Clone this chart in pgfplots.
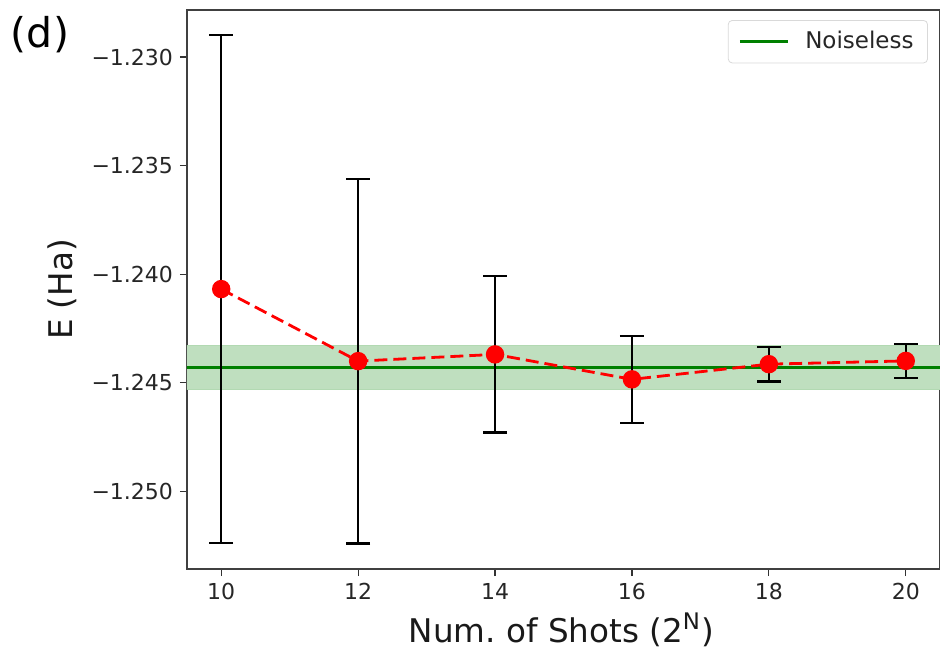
\documentclass[border=0pt]{standalone}
\usepackage{fontspec}
\setmainfont{DejaVu Sans}
\usepackage{pgfplots}
\pgfplotsset{compat=1.18}
\definecolor{mplred}{RGB}{255,0,0}
\definecolor{mplgreen}{RGB}{0,128,0}
\definecolor{bandgreen}{RGB}{191,223,191}

\begin{document}
\begin{tikzpicture}
\begin{axis}[
    scale only axis,
    width=376.5pt, height=279.5pt,
    xmin=9.5, xmax=20.5,
    ymin=-1.25359, ymax=-1.22783,
    xtick={10,12,14,16,18,20},
    xticklabels={10,12,14,16,18,20},
    ytick={-1.250,-1.245,-1.240,-1.235,-1.230},
    yticklabels={−1.250,−1.245,−1.240,−1.235,−1.230},
    xtick pos=bottom, ytick pos=left,
    tick align=outside, major tick length=3.5pt,
    tick style={black!80, line width=0.6pt},
    axis line style={black!75, line width=0.8pt},
    ticklabel style={font=\fontsize{11}{13}\selectfont, text=black!85},
    xlabel={Num.\ of Shots (2\textsuperscript{N})},
    ylabel={E (Ha)},
    label style={font=\fontsize{16.3}{19}\selectfont, text=black!90},
    xlabel style={at={(axis description cs:0.497,-0.109)}, anchor=center},
    ylabel style={at={(axis description cs:-0.166,0.5)}, anchor=center},
    legend style={at={(0.984,0.982)}, anchor=north east, draw=black!15,
        rounded corners=2pt, font=\fontsize{11.5}{13}\selectfont, text=black!85,
        inner xsep=5pt, inner ysep=3.5pt},
    legend image code/.code={\draw[#1] (0pt,0pt) -- (24pt,0pt);},
]
% noiseless band and line
\addplot[fill=bandgreen, draw=mplgreen!30, forget plot] coordinates {
    (9,-1.2433) (21,-1.2433) (21,-1.2453) (9,-1.2453)} -- cycle;
\addplot[mplgreen, line width=1.5pt] coordinates {(9,-1.2443) (21,-1.2443)};
\addlegendentry{\hspace{6pt}Noiseless}

% error bars
\addplot[draw=none, mark=none, forget plot,
    error bars/.cd, y dir=both, y explicit,
    error bar style={draw=black, line width=1.1pt},
    error mark options={draw=black, line width=1.1pt, mark size=6pt, rotate=90}]
    coordinates {
    (10,-1.24069) +- (0,0.0117)
    (12,-1.24401) +- (0,0.0084)
    (14,-1.24370) +- (0,0.0036)
    (16,-1.24485) +- (0,0.0020)
    (18,-1.24415) +- (0,0.0008)
    (20,-1.24400) +- (0,0.00077)
};

% measured energies
\addplot[mplred, line width=1.4pt, dash pattern=on 6.5pt off 3pt,
    mark=*, mark size=3.9pt, mark options={solid, fill=mplred}, forget plot]
    coordinates {
    (10,-1.24069) (12,-1.24401) (14,-1.24370)
    (16,-1.24485) (18,-1.24415) (20,-1.24400)
};
\coordinate (sw) at (rel axis cs:0,0);
\coordinate (ne) at (rel axis cs:1,1);
\end{axis}
\node[font=\fontsize{20.5}{24}\selectfont, anchor=center] at ([shift={(-73.5pt,267pt)}]sw) {(d)};
\pgfresetboundingbox
\path[use as bounding box] ([shift={(-93.5pt,-40.5pt)}]sw) rectangle ([shift={(0pt,5pt)}]ne);
\end{tikzpicture}
\end{document}
